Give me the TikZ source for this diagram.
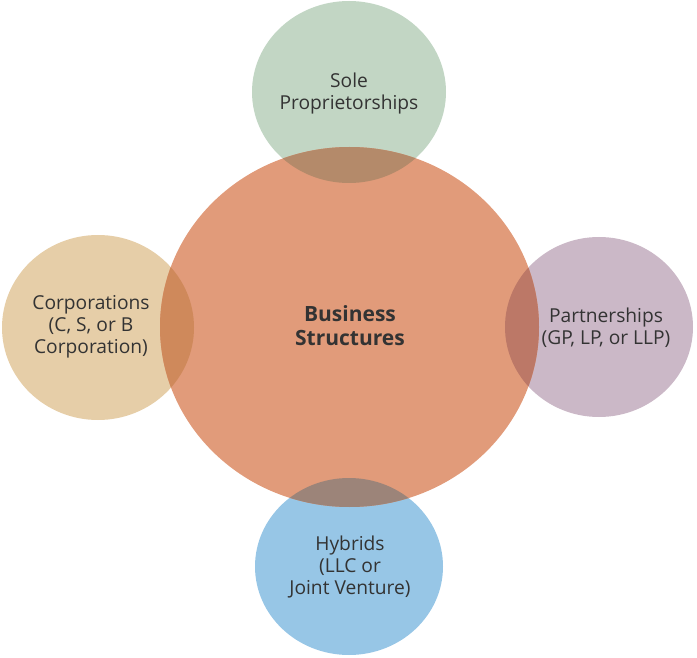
\documentclass[tikz,border=0pt]{standalone}
\usepackage{fontspec}
\setmainfont{Open Sans}

\definecolor{bigorange}{HTML}{E19B7A}
\definecolor{solegreen}{HTML}{C2D6C4}
\definecolor{corpbeige}{HTML}{E6CEA8}
\definecolor{partpurple}{HTML}{CBB8C7}
\definecolor{hybblue}{HTML}{97C6E6}
\definecolor{ovsole}{HTML}{B48A6A}
\definecolor{ovcorp}{HTML}{CF895B}
\definecolor{ovpart}{HTML}{BC7867}
\definecolor{ovhyb}{HTML}{9C8479}
\definecolor{textgray}{HTML}{333333}

\begin{document}
\begin{tikzpicture}[x=1pt,y=-1pt,
  bubbletext/.style={align=center,text=textgray,font=\fontsize{19.2}{22}\selectfont},
  maintext/.style={align=center,text=textgray,font=\bfseries\fontsize{21}{24}\selectfont}]

\useasboundingbox (0,0) rectangle (697,658);

\coordinate (cb) at (349.5,327);
\coordinate (cs) at (349,92);
\coordinate (cc) at (98,327.5);
\coordinate (cp) at (599,327);
\coordinate (ch) at (349,566.5);

\fill[solegreen] (cs) ellipse [x radius=97pt, y radius=91pt];
\fill[corpbeige] (cc) ellipse [x radius=96pt, y radius=92.5pt];
\fill[partpurple] (cp) ellipse [x radius=94pt, y radius=90pt];
\fill[hybblue] (ch) ellipse [x radius=94pt, y radius=88.5pt];

\fill[bigorange] (cb) ellipse [x radius=189.5pt, y radius=180pt];

% overlaps
\begin{scope}
\clip (cb) ellipse [x radius=189.5pt, y radius=180pt];
\fill[ovsole] (cs) ellipse [x radius=97pt, y radius=91pt];
\fill[ovcorp] (cc) ellipse [x radius=96pt, y radius=92.5pt];
\fill[ovpart] (cp) ellipse [x radius=94pt, y radius=90pt];
\fill[ovhyb] (ch) ellipse [x radius=94pt, y radius=88.5pt];
\end{scope}

\node[maintext] (business) at (350,326) {Business\\Structures};
\node[bubbletext] (sole) at (349,94) {Sole\\Proprietorships};
\node[bubbletext] (corp) at (91,327) {Corporations\\(C, S, or B\\Corporation)};
\node[bubbletext] (part) at (606,328) {Partnerships\\(GP, LP, or LLP)};
\node[bubbletext] (hyb) at (350,567) {Hybrids\\(LLC or\\Joint Venture)};

\end{tikzpicture}
\end{document}
